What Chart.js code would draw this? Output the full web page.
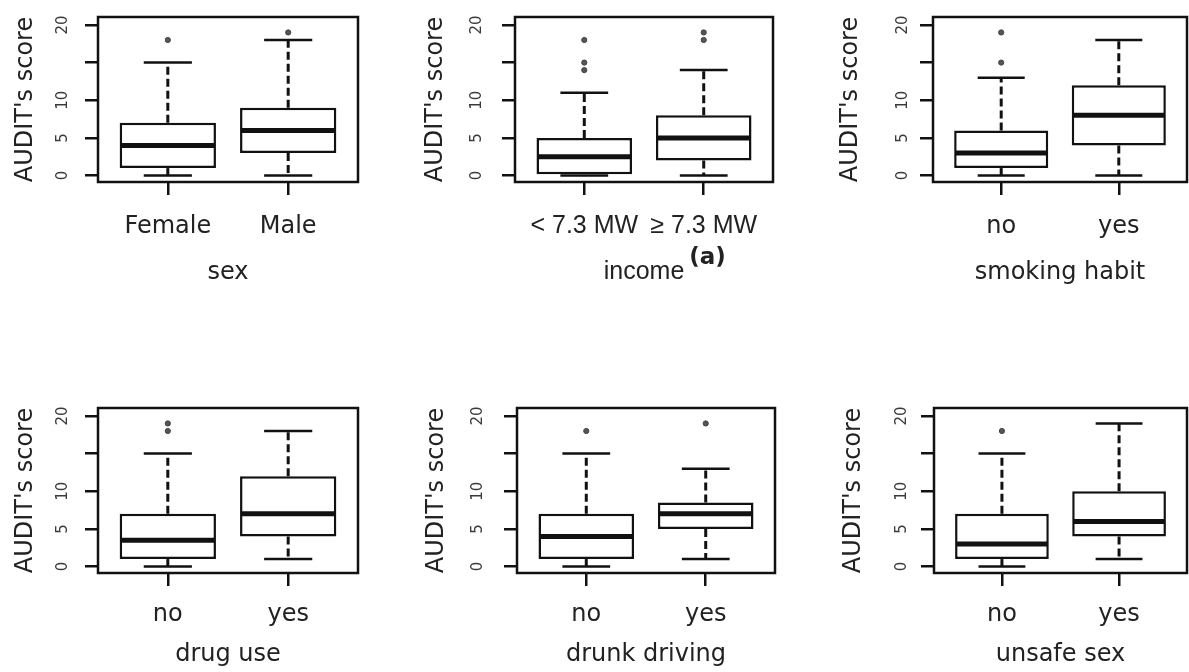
<!DOCTYPE html>
<html>
<head>
<meta charset="utf-8">
<script src="https://cdn.jsdelivr.net/npm/chart.js@4.4.1/dist/chart.umd.min.js"></script>
<style>
  html, body { margin: 0; padding: 0; background: #fff; }
  body { width: 1189px; height: 672px; position: relative; overflow: hidden; }
  .panel { position: absolute; }
</style>
</head>
<body>
<div id="panels"></div>
<script>
// Values: AUDIT's score split by six groupings
const xTitles = ['sex', 'income', 'smoking habit', 'drug use', 'drunk driving', 'unsafe sex'];
const xTitleNotes = ['', '(a)', '', '', '', ''];
const groupLabels = [
    ['Female', 'Male'],
    ['< 7.3 MW', '\u2265 7.3 MW'],
    ['no', 'yes'],
    ['no', 'yes'],
    ['no', 'yes'],
    ['no', 'yes']
];
const groupPositions = [1, 2];
const lowerWhiskers = [[0, 0], [0, 0], [0, 0], [0, 1], [0, 1], [0, 1]];
const lowerQuartiles = [[1, 3], [0, 2], [1, 4], [1, 4], [1, 5], [1, 4]];
const medians = [[4, 6], [2.5, 5], [3, 8], [3.5, 7], [4, 7], [3, 6]];
const upperQuartiles = [[7, 9], [5, 8], [6, 12], [7, 12], [7, 8.5], [7, 10]];
const upperWhiskers = [[15, 18], [11, 14], [13, 18], [15, 18], [15, 13], [15, 19]];
const outliers = [
    [[18], [19]],
    [[18, 15, 14], [19, 18]],
    [[19, 15], []],
    [[19, 18], []],
    [[18], [19]],
    [[18], []]
];
const yTickValues = [0, 5, 10, 15, 20];
const yTickLabels = ['0', '5', '10', '', '20'];
const yTitle = "AUDIT's score";

// Where each panel sits on the page
const Y_AXIS_WIDTH = 98;
const PLOT_HEIGHT = 165;
const DEJAVU = "'DejaVu Sans', sans-serif";
const LIBERATION = "'Liberation Sans', Arial, sans-serif";
const panelLayout = [
    { left: 0,   top: 0,   width: 363, height: 300, plotTop: 17, labelGap: 35, titlePad: 11, tickPad: 17, xTitlePad: 13, family: DEJAVU, size: 24 },
    { left: 417, top: 0,   width: 361, height: 300, plotTop: 17, labelGap: 38, titlePad: 4,  tickPad: 16, xTitlePad: 13, family: LIBERATION, size: 25 },
    { left: 835, top: 0,   width: 357, height: 300, plotTop: 17, labelGap: 30, titlePad: 1,  tickPad: 17, xTitlePad: 13, family: DEJAVU, size: 24 },
    { left: 0,   top: 390, width: 363, height: 282, plotTop: 18, labelGap: 35, titlePad: 11, tickPad: 14, xTitlePad: 3,  family: DEJAVU, size: 24 },
    { left: 419, top: 390, width: 361, height: 282, plotTop: 18, labelGap: 39, titlePad: 3,  tickPad: 14, xTitlePad: 3,  family: DEJAVU, size: 24 },
    { left: 836, top: 390, width: 356, height: 282, plotTop: 18, labelGap: 32, titlePad: 3,  tickPad: 14, xTitlePad: 3,  family: DEJAVU, size: 24 }
];
const LINE = 2.5;

Chart.defaults.font.family = DEJAVU;
Chart.defaults.color = '#222';

function strokeLine(ctx, x1, y1, x2, y2) {
    ctx.beginPath();
    ctx.moveTo(x1, y1);
    ctx.lineTo(x2, y2);
    ctx.stroke();
}

// Whiskers, staples and medians drawn on top of the floating-bar boxes
const boxplotMarks = {
    id: 'boxplotMarks',
    afterDatasetsDraw(chart, args, opts) {
        const { ctx } = chart;
        const ys = chart.scales.y;
        const p = opts.panel;
        const bars = chart.getDatasetMeta(0).data;

        ctx.save();
        ctx.strokeStyle = '#111';
        bars.forEach((bar, i) => {
            const cx = bar.x;
            const half = bar.width / 2;
            const yUp = ys.getPixelForValue(upperWhiskers[p][i]);
            const yLow = ys.getPixelForValue(lowerWhiskers[p][i]);

            ctx.lineWidth = 3;
            ctx.setLineDash([8, 4]);
            strokeLine(ctx, cx, ys.getPixelForValue(upperQuartiles[p][i]), cx, yUp);
            strokeLine(ctx, cx, ys.getPixelForValue(lowerQuartiles[p][i]), cx, yLow);
            ctx.setLineDash([]);

            // staples are half the box width
            ctx.lineWidth = LINE;
            strokeLine(ctx, cx - half / 2, yUp, cx + half / 2, yUp);
            strokeLine(ctx, cx - half / 2, yLow, cx + half / 2, yLow);

            ctx.lineWidth = 5;
            const yMed = ys.getPixelForValue(medians[p][i]);
            strokeLine(ctx, cx - half + 1, yMed, cx + half - 1, yMed);
        });
        ctx.restore();
    },
    afterDraw(chart, args, opts) {
        const { ctx, chartArea } = chart;
        const ys = chart.scales.y;
        const xs = chart.scales.x;
        const p = opts.panel;

        ctx.save();
        ctx.strokeStyle = '#111';
        ctx.lineWidth = LINE;
        ctx.strokeRect(chartArea.left, chartArea.top, chartArea.right - chartArea.left, chartArea.bottom - chartArea.top);

        // R style y labels, parallel to the axis
        ctx.font = "15px " + DEJAVU;
        ctx.fillStyle = '#3a3a3a';
        ctx.textAlign = 'center';
        ctx.textBaseline = 'middle';
        yTickValues.forEach((v, k) => {
            ctx.save();
            ctx.translate(chartArea.left - opts.labelGap, ys.getPixelForValue(v));
            ctx.rotate(-Math.PI / 2);
            ctx.fillText(yTickLabels[k], 0, 0);
            ctx.restore();
        });

        // superscript note after the x title
        if (xTitleNotes[p]) {
            const titleFont = xs.options.title.font;
            const lineHeight = titleFont.size * 1.2;
            const midY = xs.bottom - lineHeight / 2 - opts.xTitlePad;
            ctx.font = titleFont.size + 'px ' + titleFont.family;
            const half = ctx.measureText(xTitles[p]).width / 2;
            ctx.font = "bold 23px " + DEJAVU;
            ctx.fillStyle = '#222';
            ctx.textAlign = 'left';
            ctx.fillText(xTitleNotes[p], (xs.left + xs.right) / 2 + half + 5, midY - 14);
        }
        ctx.restore();
    }
};

function buildPanel(p) {
    const lay = panelLayout[p];
    const holder = document.createElement('div');
    holder.className = 'panel';
    holder.style.left = lay.left + 'px';
    holder.style.top = lay.top + 'px';
    holder.style.width = lay.width + 'px';
    holder.style.height = lay.height + 'px';
    const canvas = document.createElement('canvas');
    holder.appendChild(canvas);
    document.getElementById('panels').appendChild(holder);

    const boxes = groupPositions.map((pos, i) => ({ x: pos, y: [lowerQuartiles[p][i], upperQuartiles[p][i]] }));
    const points = [];
    groupPositions.forEach((pos, i) => {
        outliers[p][i].forEach(v => points.push({ x: pos, y: v }));
    });
    const xAxisHeight = lay.height - lay.plotTop - PLOT_HEIGHT;

    new Chart(canvas, {
        type: 'bar',
        data: {
            datasets: [{
                data: boxes,
                backgroundColor: '#fff',
                borderColor: '#111',
                borderWidth: LINE,
                borderSkipped: false,
                barPercentage: 0.8,
                categoryPercentage: 1
            }, {
                type: 'line',
                data: points,
                showLine: false,
                pointRadius: 2.6,
                pointBackgroundColor: '#555',
                pointBorderColor: '#444',
                pointBorderWidth: 1
            }]
        },
        options: {
            responsive: true,
            maintainAspectRatio: false,
            animation: false,
            events: [],
            layout: { padding: { top: lay.plotTop, right: 2, left: 0, bottom: 0 } },
            plugins: {
                legend: { display: false },
                tooltip: { enabled: false },
                boxplotMarks: { panel: p, labelGap: lay.labelGap, xTitlePad: lay.xTitlePad }
            },
            scales: {
                // R pads the 0.5 .. n+0.5 range by 4% on each side
                x: {
                    type: 'linear',
                    min: 0.42,
                    max: 2.58,
                    offset: false,
                    border: { display: false },
                    grid: { offset: false, drawOnChartArea: false, drawTicks: true, tickLength: 13, color: '#111', lineWidth: LINE },
                    ticks: {
                        font: { size: lay.size, family: lay.family },
                        color: '#222',
                        padding: lay.tickPad,
                        maxRotation: 0,
                        autoSkip: false,
                        callback: v => groupLabels[p][groupPositions.indexOf(v)]
                    },
                    title: {
                        display: true,
                        text: xTitles[p],
                        font: { size: lay.size, family: lay.family },
                        color: '#222',
                        padding: { top: 0, bottom: lay.xTitlePad }
                    },
                    afterBuildTicks(scale) { scale.ticks = groupPositions.map(v => ({ value: v })); },
                    afterFit(scale) {
                        scale.height = xAxisHeight;
                        scale.paddingLeft = 0;
                        scale.paddingRight = 0;
                    }
                },
                y: {
                    min: -0.85,
                    max: 21.05,
                    border: { display: false },
                    grid: { drawOnChartArea: false, drawTicks: true, tickLength: 13, color: '#111', lineWidth: LINE },
                    ticks: { display: false },
                    title: { display: true, text: yTitle, font: { size: 24 }, color: '#222', padding: { top: lay.titlePad, bottom: 0 } },
                    afterBuildTicks(scale) { scale.ticks = yTickValues.map(v => ({ value: v })); },
                    afterFit(scale) {
                        scale.width = Y_AXIS_WIDTH;
                        scale.paddingTop = 0;
                        scale.paddingBottom = 0;
                    }
                }
            }
        },
        plugins: [boxplotMarks]
    });
}

for (let p = 0; p < panelLayout.length; p++) {
    buildPanel(p);
}
</script>
</body>
</html>
